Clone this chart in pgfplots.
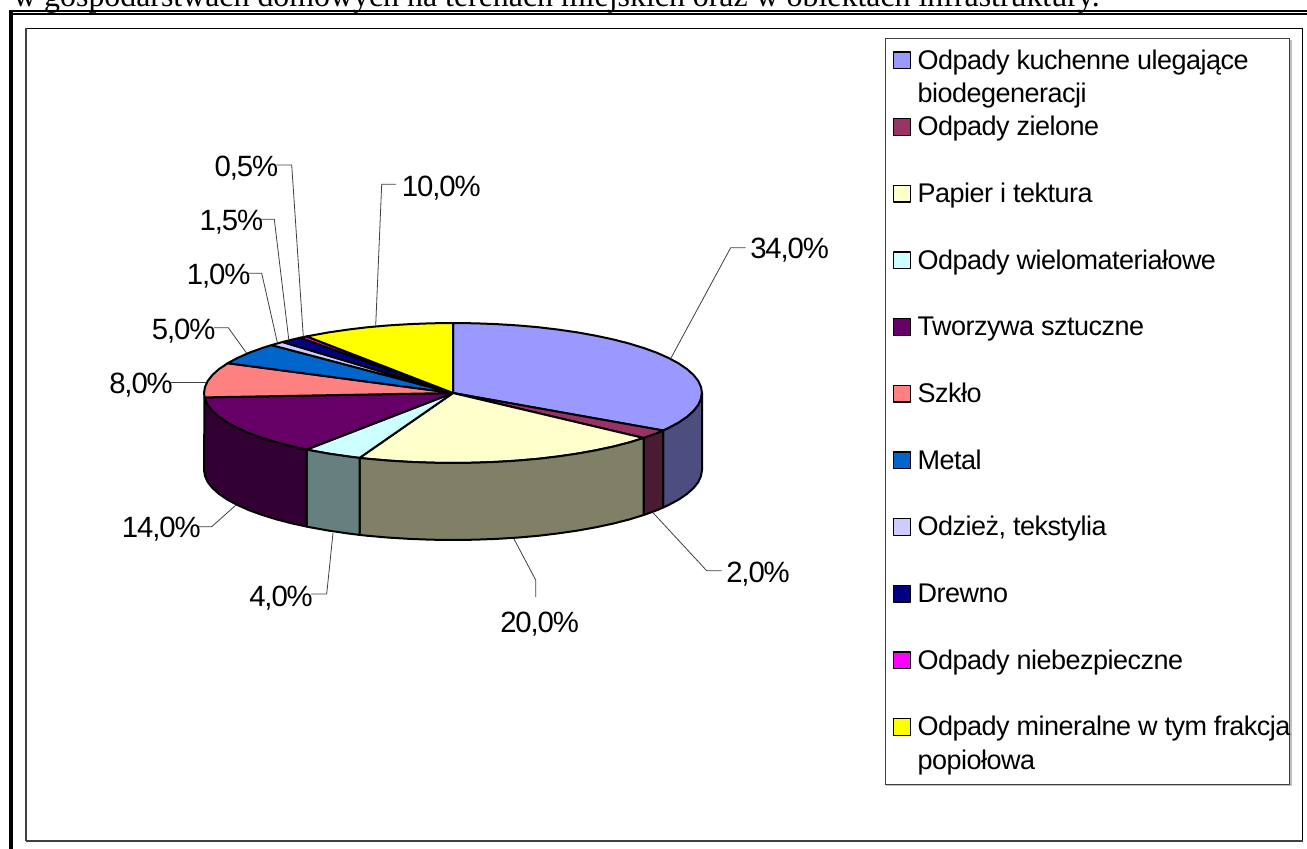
\documentclass[border=0pt]{standalone}
\usepackage{pgfplots}
\pgfplotsset{compat=1.18}
\usepackage{fontspec}
\setmainfont{Liberation Sans}
\newfontfamily\timesf{Liberation Serif}
\newfontfamily\legf[LetterSpace=-1.9]{Liberation Sans}
\newfontfamily\labf[LetterSpace=-3.8]{Liberation Sans}
\definecolor{c1}{HTML}{9999FF}\definecolor{c2}{HTML}{993366}\definecolor{c3}{HTML}{FFFFCC}
\definecolor{c4}{HTML}{CCFFFF}\definecolor{c5}{HTML}{660066}\definecolor{c6}{HTML}{FF8080}
\definecolor{c7}{HTML}{0066CC}\definecolor{c8}{HTML}{CCCCFF}\definecolor{c9}{HTML}{000080}
\definecolor{c10}{HTML}{FF00FF}\definecolor{c11}{HTML}{FFFF00}
\definecolor{s1}{HTML}{4D4D80}\definecolor{s2}{HTML}{4D1A33}\definecolor{s3}{HTML}{808066}
\definecolor{s4}{HTML}{668080}\definecolor{s5}{HTML}{330033}
\definecolor{frame}{HTML}{404040}\definecolor{leader}{HTML}{404040}
\newcommand{\LE}[1]{\makebox[273pt][l]{#1}}
\newcommand{\SL}[1]{\rlap{\smash{\raisebox{-25.3pt}{#1}}}}
\tikzset{lab/.style={anchor=base west,inner sep=0pt,yshift=-0.75pt,font=\labf\fontsize{22}{26}\selectfont,text=black}}
\begin{document}
\begin{tikzpicture}
\useasboundingbox (0,0) rectangle (980.25pt,636.75pt);
\clip (0,0) rectangle (980.25pt,636.75pt);
\begin{axis}[
  at={(0,0)},anchor=south west,scale only axis,width=980.25pt,height=636.75pt,
  xmin=0,xmax=1307,ymin=0,ymax=849,y dir=reverse,hide axis,clip=false,no markers,
  slice/.style={line width=1.5pt,line join=round,draw=black},
  legend image code/.code={\draw[#1,line width=1pt,draw=black] (0pt,7.35pt) rectangle (12.5pt,19.85pt);},
  legend cell align=left,
  legend style={at={(axis cs:884.5,38.5)},anchor=north west,draw=frame,line width=.75pt,
    font=\legf\fontsize{20.25}{24}\selectfont,inner xsep=6pt,inner ysep=4.6pt,
    nodes={inner sep=0pt,text height=18pt,text depth=32pt},column sep=5pt,row sep=0pt},
]
% top faces
\addplot[slice,fill=c1] coordinates {(453,393)(453,323)(474.7,323.3)(496.2,324.1)(517.4,325.4)(538.2,327.2)(558.2,329.6)(577.5,332.4)(595.8,335.7)(613.1,339.4)(629.1,343.5)(643.7,348)(657,352.8)(668.6,358)(678.7,363.4)(687,369.1)(693.5,374.9)(698.2,380.8)(701,386.9)(702,393)(701,399.1)(698.2,405.2)(693.5,411.1)(687,416.9)(678.7,422.6)(668.6,428)(663.2,430.5)} --cycle;
\addlegendentry{\LE{\SL{biodegeneracji}Odpady kuchenne ulegające}}
\addplot[slice,fill=c2] coordinates {(453,393)(663.2,430.5)(657,433.2)(643.7,438)} --cycle;
\addlegendentry{\LE{Odpady zielone}}
\addplot[slice,fill=c3] coordinates {(453,393)(643.7,438)(629.1,442.5)(613.1,446.6)(595.8,450.3)(577.5,453.6)(558.2,456.4)(538.2,458.8)(517.4,460.6)(496.2,461.9)(474.7,462.7)(453,463)(431.3,462.7)(409.8,461.9)(388.6,460.6)(367.8,458.8)(359.5,457.9)} --cycle;
\addlegendentry{\LE{Papier i tektura}}
\addplot[slice,fill=c4] coordinates {(453,393)(359.5,457.9)(347.8,456.4)(328.5,453.6)(310.2,450.3)(306.6,449.6)} --cycle;
\addlegendentry{\LE{Odpady wielomateriałowe}}
\addplot[slice,fill=c5] coordinates {(453,393)(306.6,449.6)(292.9,446.6)(276.9,442.5)(262.3,438)(249,433.2)(237.4,428)(227.3,422.6)(219,416.9)(212.5,411.1)(207.8,405.2)(205,399.1)(204.5,397.4)} --cycle;
\addlegendentry{\LE{Tworzywa sztuczne}}
\addplot[slice,fill=c6] coordinates {(453,393)(204.5,397.4)(204,393)(205,386.9)(207.8,380.8)(212.5,374.9)(219,369.1)(227.7,363.2)} --cycle;
\addlegendentry{\LE{Szkło}}
\addplot[slice,fill=c7] coordinates {(453,393)(227.7,363.2)(237.4,358)(249,352.8)(262.3,348)(271.5,345.1)} --cycle;
\addlegendentry{\LE{Metal}}
\addplot[slice,fill=c8] coordinates {(453,393)(271.5,345.1)(282.6,342)} --cycle;
\addlegendentry{\LE{Odzież, tekstylia}}
\addplot[slice,fill=c9] coordinates {(453,393)(282.6,342)(293,339.4)(300.4,337.7)} --cycle;
\addlegendentry{\LE{Drewno}}
\addplot[slice,fill=c10] coordinates {(453,393)(300.4,337.7)(306.6,336.4)} --cycle;
\addlegendentry{\LE{Odpady niebezpieczne}}
\addplot[slice,fill=c11] coordinates {(453,393)(306.6,336.4)(328.5,332.4)(347.8,329.6)(367.8,327.2)(388.6,325.4)(409.8,324.1)(431.3,323.3)(453,323)} --cycle;
\addlegendentry{\LE{\SL{popiołowa}Odpady mineralne w tym frakcja}}
% side faces
\addplot[slice,fill=s1,forget plot] coordinates {(702,393)(701,399.1)(698.2,405.2)(693.5,411.1)(687,416.9)(678.7,422.6)(668.6,428)(663.2,430.5)(663.2,507.5)(668.6,505)(678.7,499.6)(687,493.9)(693.5,488.1)(698.2,482.2)(701,476.1)(702,470)} --cycle;
\addplot[slice,fill=s2,forget plot] coordinates {(663.2,430.5)(657,433.2)(643.7,438)(643.7,515)(657,510.2)(663.2,507.5)} --cycle;
\addplot[slice,fill=s3,forget plot] coordinates {(643.7,438)(629.1,442.5)(613.1,446.6)(595.8,450.3)(577.5,453.6)(558.2,456.4)(538.2,458.8)(517.4,460.6)(496.2,461.9)(474.7,462.7)(453,463)(431.3,462.7)(409.8,461.9)(388.6,460.6)(367.8,458.8)(359.5,457.9)(359.5,534.9)(367.8,535.8)(388.6,537.6)(409.8,538.9)(431.3,539.7)(453,540)(474.7,539.7)(496.2,538.9)(517.4,537.6)(538.2,535.8)(558.2,533.4)(577.5,530.6)(595.8,527.3)(613.1,523.6)(629.1,519.5)(643.7,515)} --cycle;
\addplot[slice,fill=s4,forget plot] coordinates {(359.5,457.9)(347.8,456.4)(328.5,453.6)(310.2,450.3)(306.6,449.6)(306.6,526.6)(310.2,527.3)(328.5,530.6)(347.8,533.4)(359.5,534.9)} --cycle;
\addplot[slice,fill=s5,forget plot] coordinates {(306.6,449.6)(292.9,446.6)(276.9,442.5)(262.3,438)(249,433.2)(237.4,428)(227.3,422.6)(219,416.9)(212.5,411.1)(207.8,405.2)(205,399.1)(204.5,397.4)(204,470)(205,476.1)(207.8,482.2)(212.5,488.1)(219,493.9)(227.3,499.6)(237.4,505)(249,510.2)(262.3,515)(276.9,519.5)(292.9,523.6)(306.6,526.6)} --cycle;
% leader lines
\pgfplotsset{every axis plot/.append style={forget plot}}
\addplot[leader,line width=.6pt] coordinates {(671,358)(730.7,247.7)(745.7,247.7)};
\addplot[leader,line width=.6pt] coordinates {(653,512.7)(706.7,570.7)(721.7,570.7)};
\addplot[leader,line width=.6pt] coordinates {(514,539)(535.7,580)(535.7,597)};
\addplot[leader,line width=.6pt] coordinates {(333,533)(326.7,594)(311,594)};
\addplot[leader,line width=.6pt] coordinates {(236,505)(211.7,526.7)(196.7,526.7)};
\addplot[leader,line width=.6pt] coordinates {(206,382.3)(171,382.3)};
\addplot[leader,line width=.6pt] coordinates {(246.7,353.3)(228.3,327.7)(214,327.7)};
\addplot[leader,line width=.6pt] coordinates {(277.3,342.3)(261.7,273.3)(246.7,273.3)};
\addplot[leader,line width=.6pt] coordinates {(288.7,339)(274.3,219.3)(260,219.3)};
\addplot[leader,line width=.6pt] coordinates {(303.3,336.7)(291.7,165)(276.7,165)};
\addplot[leader,line width=.6pt] coordinates {(375.7,325.7)(381.7,184.3)(396,184.3)};
% frames
\addplot[black,line width=1.5pt] coordinates {(9,11)(1307,11)};
\addplot[black,line width=1.5pt] coordinates {(9,14.3)(1307,14.3)};
\addplot[black,line width=3pt] coordinates {(11,10)(11,849)};
\addplot[black,line width=.75pt] coordinates {(26,28.5)(1302,28.5)(1302,841)};
\addplot[frame,line width=1.1pt] coordinates {(26,28.5)(26,841)};
\addplot[frame,line width=1.5pt] coordinates {(25.5,841)(1302.5,841)};
\addplot[gray!50,line width=1.1pt] coordinates {(1291,40)(1291,785.5)(886,785.5)};
% texts
\node[anchor=base west,inner sep=0pt,font=\timesf\fontsize{23.9}{28}\selectfont] at (axis cs:13,7) {w gospodarstwach domowych na terenach miejskich oraz w obiektach infrastruktury.};
\node[lab] at (axis cs:750,257.6) {34,0\%};
\node[lab] at (axis cs:726,581.5) {2,0\%};
\node[lab] at (axis cs:500,631.3) {20,0\%};
\node[lab] at (axis cs:249,605.3) {4,0\%};
\node[lab] at (axis cs:121.7,536.6) {14,0\%};
\node[lab] at (axis cs:109,392.3) {8,0\%};
\node[lab] at (axis cs:151.7,338.6) {5,0\%};
\node[lab] at (axis cs:186.7,283.6) {1,0\%};
\node[lab] at (axis cs:199.3,229.6) {1,5\%};
\node[lab] at (axis cs:214.3,175.6) {0,5\%};
\node[lab] at (axis cs:401.7,195.6) {10,0\%};
\end{axis}
\end{tikzpicture}
\end{document}
